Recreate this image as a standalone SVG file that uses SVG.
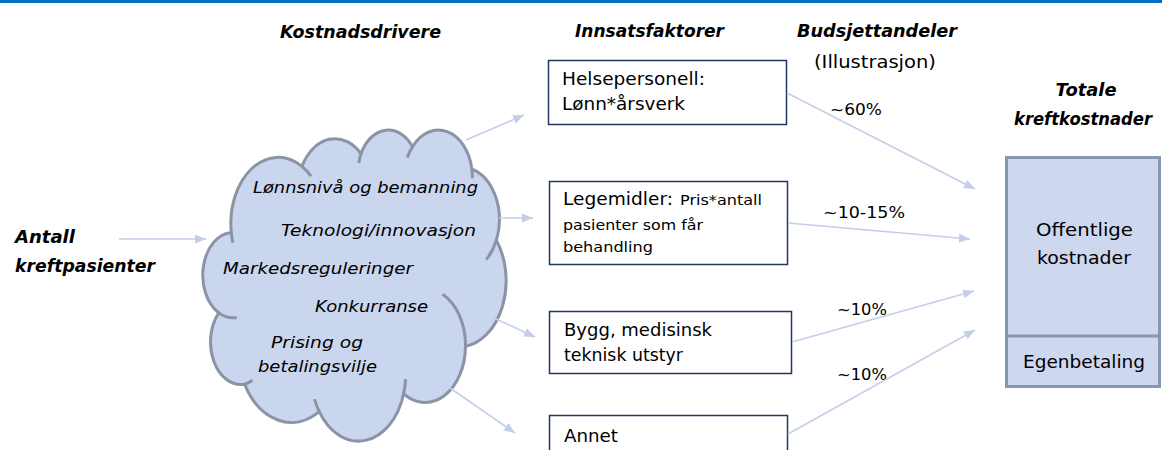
<svg xmlns="http://www.w3.org/2000/svg" width="1162" height="450" viewBox="0 0 1162 450">
<defs>
<marker id="ah" markerUnits="userSpaceOnUse" markerWidth="12" markerHeight="10" refX="11" refY="5" orient="auto">
<path d="M0,0.5 L11,5 L0,9.5 z" fill="#c3cfe8"/>
</marker>
<style>
text{font-family:"DejaVu Sans","Liberation Sans",sans-serif;fill:#000}
.h{font-weight:bold;font-style:oblique;font-size:18px}
.ct{font-style:oblique;font-size:16.5px}
.bt{font-size:17px}
.st{font-size:14px}
.pc{font-size:15px}
.box{fill:#fff;stroke:#1f3864;stroke-width:1.5}
.conn{stroke:#c3cfe8;stroke-width:1.6;fill:none;marker-end:url(#ah)}
</style>
</defs>
<rect x="0" y="0" width="1162" height="3" fill="#0070c0"/>

<g id="headers">
<text class="h" x="280" y="38" textLength="161" lengthAdjust="spacingAndGlyphs">Kostnadsdrivere</text>
<text class="h" x="575" y="37" textLength="149" lengthAdjust="spacingAndGlyphs">Innsatsfaktorer</text>
<text class="h" x="797" y="37" textLength="160" lengthAdjust="spacingAndGlyphs">Budsjettandeler</text>
<text x="814" y="68" font-size="18" textLength="122" lengthAdjust="spacingAndGlyphs">(Illustrasjon)</text>
</g>

<g id="antall">
<text class="h" x="15" y="243" textLength="60" lengthAdjust="spacingAndGlyphs">Antall</text>
<text class="h" x="15" y="272" textLength="140" lengthAdjust="spacingAndGlyphs">kreftpasienter</text>
</g>

<g id="cloud">
<g transform="translate(204,129) scale(0.0069907,0.0071991)">
<path d="M3900,14370 A6753,9190 0 0 1 14006,5203 A5333,7267 0 0 1 22457,3431 A4365,5945 0 0 1 29832,2475 A4857,6595 0 0 1 38318,5570 A5333,7273 0 0 1 41818,15454 A6775,9220 0 0 1 37403,30195 A5785,7867 0 0 1 28555,36806 A6752,9215 0 0 1 16480,39259 A7720,10543 0 0 1 5803,35463 A4360,5918 0 0 1 2112,25542 A4345,5945 0 0 1 3900,14370 Z" fill="#cad5ee" stroke="#8a94a4" stroke-width="3" vector-effect="non-scaling-stroke"/>
<path d="M4693,26177 A4345,5945 0 0 1 2112,25542 M6928,34899 A4360,5918 0 0 1 5803,35463 M16480,39259 A6752,9215 0 0 1 15811,37517 M28827,34751 A6752,9215 0 0 1 28555,36806 M34129,22954 A5785,7867 0 0 1 37403,30195 M41818,15454 A5333,7273 0 0 1 40369,18131 M38318,5570 A4857,6595 0 0 1 38394,6834 M29078,3952 A4857,6595 0 0 1 29832,2475 M22141,4720 A4365,5945 0 0 1 22457,3431 M14006,5203 A6753,9190 0 0 1 15305,6551 M4127,15789 A6753,9190 0 0 1 3900,14370" fill="none" stroke="#8a94a4" stroke-width="3" vector-effect="non-scaling-stroke"/>
</g>
<text class="ct" x="253" y="193" textLength="225" lengthAdjust="spacingAndGlyphs">Lønnsnivå og bemanning</text>
<text class="ct" x="281" y="236" textLength="195" lengthAdjust="spacingAndGlyphs">Teknologi/innovasjon</text>
<text class="ct" x="223" y="274" textLength="190" lengthAdjust="spacingAndGlyphs">Markedsreguleringer</text>
<text class="ct" x="315" y="312" textLength="113" lengthAdjust="spacingAndGlyphs">Konkurranse</text>
<text class="ct" x="271" y="348" textLength="92" lengthAdjust="spacingAndGlyphs">Prising og</text>
<text class="ct" x="258" y="372" textLength="119" lengthAdjust="spacingAndGlyphs">betalingsvilje</text>
</g>

<g id="helsepersonell">
<rect class="box" x="548.5" y="60.5" width="238" height="64"/>
<text class="bt" x="562" y="85" textLength="143" lengthAdjust="spacingAndGlyphs">Helsepersonell:</text>
<text class="bt" x="562" y="110" textLength="123" lengthAdjust="spacingAndGlyphs">Lønn*årsverk</text>
</g>

<g id="legemidler">
<rect class="box" x="549.5" y="181.5" width="238" height="83"/>
<text class="bt" x="563" y="205" textLength="110" lengthAdjust="spacingAndGlyphs">Legemidler:</text>
<text class="st" x="680" y="205" textLength="82" lengthAdjust="spacingAndGlyphs">Pris*antall</text>
<text class="st" x="563" y="230" textLength="140" lengthAdjust="spacingAndGlyphs">pasienter som får</text>
<text class="st" x="563" y="252" textLength="90" lengthAdjust="spacingAndGlyphs">behandling</text>
</g>

<g id="bygg">
<rect class="box" x="549.5" y="311.5" width="242" height="62"/>
<text class="bt" x="564" y="336" textLength="148" lengthAdjust="spacingAndGlyphs">Bygg, medisinsk</text>
<text class="bt" x="564" y="361" textLength="119" lengthAdjust="spacingAndGlyphs">teknisk utstyr</text>
</g>

<g id="annet">
<rect class="box" x="549.5" y="415.5" width="238" height="60"/>
<text class="bt" x="564" y="442" textLength="54" lengthAdjust="spacingAndGlyphs">Annet</text>
</g>

<g id="totale">
<text class="h" x="1086" y="96" text-anchor="middle" textLength="61" lengthAdjust="spacingAndGlyphs">Totale</text>
<text class="h" x="1083" y="125" text-anchor="middle" font-size="17" textLength="138" lengthAdjust="spacingAndGlyphs">kreftkostnader</text>
<rect x="1006.5" y="157.5" width="153" height="229" fill="#cdd7ee" stroke="#8596af" stroke-width="3"/>
<line x1="1006.5" y1="336" x2="1159.5" y2="336" stroke="#8596af" stroke-width="3"/>
<text class="bt" x="1084.5" y="236" text-anchor="middle" textLength="97" lengthAdjust="spacingAndGlyphs">Offentlige</text>
<text class="bt" x="1084" y="264" text-anchor="middle" textLength="94" lengthAdjust="spacingAndGlyphs">kostnader</text>
<text class="bt" x="1084" y="368" text-anchor="middle" textLength="122" lengthAdjust="spacingAndGlyphs">Egenbetaling</text>
</g>

<g id="labels">
<text class="pc" x="830" y="115" textLength="52" lengthAdjust="spacingAndGlyphs">~60%</text>
<text class="pc" x="823" y="218" textLength="82" lengthAdjust="spacingAndGlyphs">~10-15%</text>
<text class="pc" x="837" y="315" textLength="50" lengthAdjust="spacingAndGlyphs">~10%</text>
<text class="pc" x="837" y="380" textLength="50" lengthAdjust="spacingAndGlyphs">~10%</text>
</g>

<g id="connectors">
<path class="conn" d="M119,239 L206,239"/>
<path class="conn" d="M466,140 L524,115"/>
<path class="conn" d="M499,218 L533,218"/>
<path class="conn" d="M494,318 L535,337"/>
<path class="conn" d="M450,388 L515,433"/>
<path class="conn" d="M787,93 L975,189"/>
<path class="conn" d="M788,223 L970,239"/>
<path class="conn" d="M792,342 L974,291"/>
<path class="conn" d="M788,434 L975,330"/>
</g>
</svg>
